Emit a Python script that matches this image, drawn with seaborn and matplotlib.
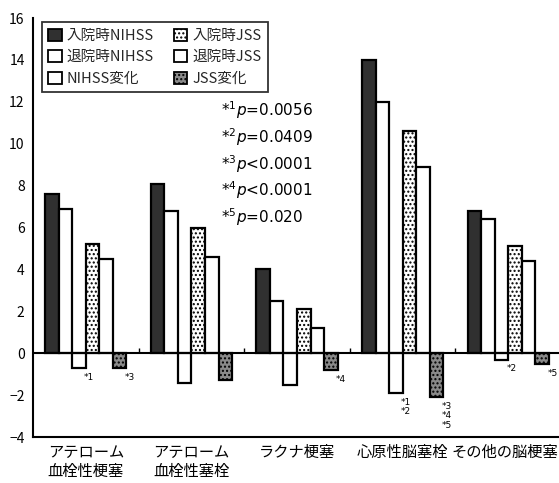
import numpy as np
import pandas as pd
import matplotlib
matplotlib.use("Agg")
import matplotlib.pyplot as plt
import seaborn as sns
from matplotlib.patches import Patch
from matplotlib.transforms import ScaledTranslation

# ---- data -------------------------------------------------------------
categories = ["アテローム\n血栓性梗塞", "アテローム\n血栓性塞栓", "ラクナ梗塞",
              "心原性脳塞栓", "その他の脳梗塞"]
series = ["入院時NIHSS", "退院時NIHSS", "NIHSS変化", "入院時JSS", "退院時JSS", "JSS変化"]

nihss_admit = [7.6, 8.1, 4.0, 14.0, 6.8]
nihss_discharge = [6.9, 6.8, 2.5, 12.0, 6.4]
nihss_change = [-0.7, -1.4, -1.5, -1.9, -0.3]
jss_admit = [5.2, 6.0, 2.1, 10.6, 5.1]
jss_discharge = [4.5, 4.6, 1.2, 8.9, 4.4]
jss_change = [-0.7, -1.3, -0.8, -2.1, -0.5]

pvalue_notes = ["=0.0056", "=0.0409", "<0.0001", "<0.0001", "=0.020"]
# significance marks: (category index, series index, text)
sig_marks = [(0, 2, "*1"), (0, 5, "*3"), (2, 5, "*4"),
             (3, 2, "*1\n*2"), (3, 5, "*3\n*4\n*5"),
             (4, 2, "*2"), (4, 5, "*5")]
yticks = list(range(-4, 17, 2))

values = [nihss_admit, nihss_discharge, nihss_change,
          jss_admit, jss_discharge, jss_change]
df = pd.DataFrame({
    "category": [c for _ in series for c in categories],
    "series": [s for s in series for _ in categories],
    "value": [v for vals in values for v in vals],
})

# ---- styling ----------------------------------------------------------
sns.set_theme(style="white")
plt.rcParams["font.family"] = ["Noto Sans CJK JP", "DejaVu Sans"]
plt.rcParams["hatch.linewidth"] = 1.0

styles = {
    "入院時NIHSS": dict(facecolor="#303030", hatch=None),
    "退院時NIHSS": dict(facecolor="white", hatch=None),
    "NIHSS変化": dict(facecolor="white", hatch=None),
    "入院時JSS": dict(facecolor="white", hatch="...."),
    "退院時JSS": dict(facecolor="white", hatch=None),
    "JSS変化": dict(facecolor="#8a8a8a", hatch="...."),
}

fig = plt.figure(figsize=(5.59, 4.83), dpi=100)
ax = fig.add_axes([0.059, 0.0952, 0.941, 0.8675])

sns.barplot(data=df, x="category", y="value", hue="series",
            order=categories, hue_order=series, width=0.77,
            ax=ax, legend=False, errorbar=None, saturation=1)

for name, cont in zip(series, ax.containers):
    st = styles[name]
    for bar in cont:
        bar.set_facecolor(st["facecolor"])
        bar.set_edgecolor("black")
        bar.set_linewidth(1.6)
        if st["hatch"]:
            bar.set_hatch(st["hatch"])

ax.set_xlim(-0.5, 4.48)
ax.set_ylim(-4, 16)
ax.set_yticks(yticks)
ax.set_xlabel("")
ax.set_ylabel("")
ax.axhline(0, color="black", lw=1.5, zorder=3)
ax.vlines(np.arange(len(categories) - 1) + 0.5, 0, 0.25, color="black", lw=1.0)

for side in ("top", "right"):
    ax.spines[side].set_visible(False)
for side in ("left", "bottom"):
    ax.spines[side].set_color("black")
    ax.spines[side].set_linewidth(1.5)

ax.tick_params(axis="y", length=0, labelsize=10, pad=6, colors="black")
ax.tick_params(axis="x", length=0, labelsize=11, pad=5, colors="black")
xlabels = ax.get_xticklabels()
for lab in xlabels:
    lab.set_linespacing(1.15)
# keep the last category name inside the figure
xlabels[-1].set_transform(xlabels[-1].get_transform()
                          + ScaledTranslation(-2.5 / 72, 0, fig.dpi_scale_trans))

# significance marks beside the bars
for ci, si, txt in sig_marks:
    bar = ax.containers[si][ci]
    x = bar.get_x() + bar.get_width()
    y = min(bar.get_y(), bar.get_y() + bar.get_height())
    ax.annotate(txt, xy=(x, y), xytext=(2.5, -3.5), textcoords="offset points",
                ha="center", va="top", fontsize=6.5, linespacing=1.05,
                family="DejaVu Sans", color="black")

# p-value key
for k, note in enumerate(pvalue_notes):
    ax.text(0.358, 0.78 - k * 0.064, f"*$^{{{k + 1}}}$$p${note}",
            transform=ax.transAxes, fontsize=11, va="center", ha="left",
            family="DejaVu Sans", color="black")

# legend
handles = []
for name in series:
    st = styles[name]
    handles.append(Patch(facecolor=st["facecolor"], edgecolor="black",
                         hatch=st["hatch"], linewidth=1.3, label=name))
leg = ax.legend(handles=handles, ncol=2, loc="upper left",
                bbox_to_anchor=(0.017, 0.99), borderaxespad=0,
                fontsize=10.5, frameon=True, fancybox=False,
                handlelength=0.9, handleheight=0.9, handletextpad=0.35,
                labelspacing=0.5, columnspacing=1.4, borderpad=0.45)
leg.get_frame().set_edgecolor("black")
leg.get_frame().set_linewidth(1.3)

fig.savefig("out.png", dpi=100)
